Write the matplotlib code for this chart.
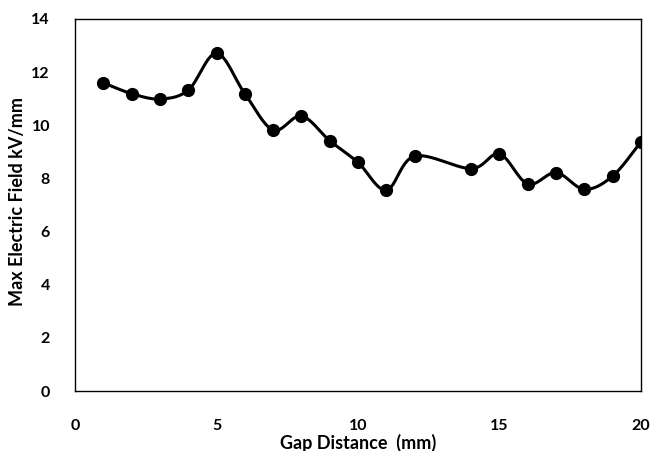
import numpy as np
import matplotlib.pyplot as plt

plt.rcParams['font.family'] = ['Lato', 'DejaVu Sans']

gap_mm = [1, 2, 3, 4, 5, 6, 7, 8, 9, 10, 11, 12, 14, 15, 16, 17, 18, 19, 20]
field_kv = [11.6, 11.19, 10.99, 11.32, 12.71, 11.19, 9.82, 10.35, 9.42, 8.6,
            7.56, 8.84, 8.37, 8.92, 7.79, 8.22, 7.59, 8.09, 9.38]
x_ticks = [0, 5, 10, 15, 20]
y_ticks = [0, 2, 4, 6, 8, 10, 12, 14]


def smooth_curve(x, y, n=30):
    # catmull-rom style bezier through every point (spreadsheet "smoothed line")
    p = np.column_stack([x, y]).astype(float)
    p = np.vstack([p[0], p, p[-1]])
    out = []
    for i in range(1, len(p) - 2):
        p0, p1, p2, p3 = p[i - 1], p[i], p[i + 1], p[i + 2]
        c1 = p1 + (p2 - p0) / 6
        c2 = p2 - (p3 - p1) / 6
        t = np.linspace(0, 1, n)[:, None]
        seg = ((1 - t) ** 3 * p1 + 3 * (1 - t) ** 2 * t * c1
               + 3 * (1 - t) * t ** 2 * c2 + t ** 3 * p2)
        out.append(seg if i == 1 else seg[1:])
    out = np.vstack(out)
    return out[:, 0], out[:, 1]


fig = plt.figure(figsize=(6.53, 4.51), dpi=100)
ax = fig.add_axes([0.1149, 0.133, 0.8667, 0.8249])

sx, sy = smooth_curve(gap_mm, field_kv)
ax.plot(sx, sy, color='black', lw=2.2, solid_capstyle='round')
ax.plot(gap_mm, field_kv, 'o', color='black', ms=8.5)

ax.set_xlim(0, 20)
ax.set_ylim(0, 14)
ax.set_xticks(x_ticks)
ax.set_yticks(y_ticks)
ax.tick_params(length=0, labelsize=11.5)
ax.tick_params(axis='x', pad=20)
ax.tick_params(axis='y', pad=18)
for lab in ax.get_xticklabels() + ax.get_yticklabels():
    lab.set_fontweight('bold')
for s in ax.spines.values():
    s.set_linewidth(1.0)
    s.set_color('black')

ax.set_xlabel('Gap Distance  (mm)', fontsize=13, fontweight='bold')
ax.set_ylabel('Max Electric Field kV/mm', fontsize=13, fontweight='bold')
ax.xaxis.set_label_coords(0.5, -0.114)
ax.yaxis.set_label_coords(-0.086, 0.51)

fig.savefig('out.png', dpi=100)
